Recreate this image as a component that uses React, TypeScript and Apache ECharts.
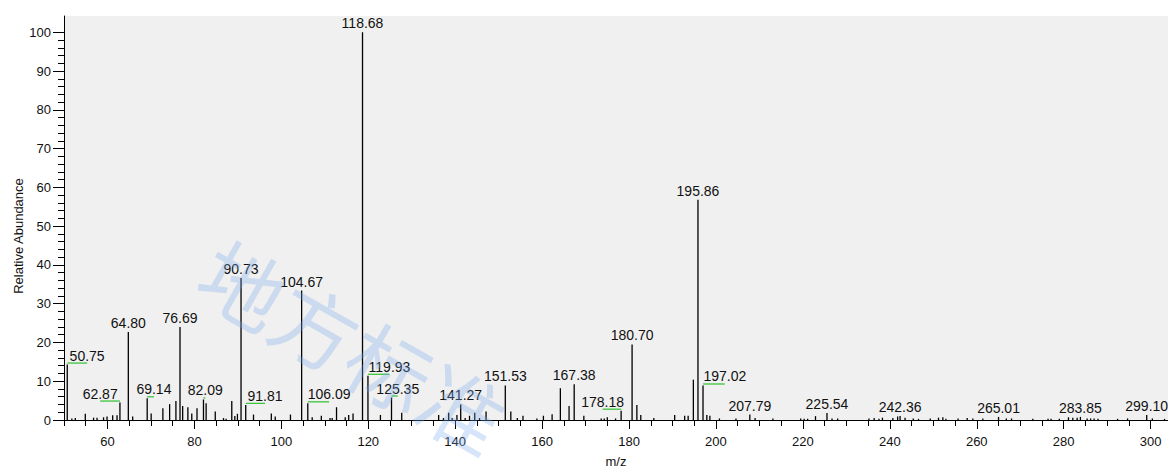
import React, { useEffect, useRef } from 'react';
import * as echarts from 'echarts';

const peakMz = [
  50.75, 51.8, 52.6, 54.9, 56.8, 57.6, 59.1, 59.9, 61.2, 62.2, 62.87, 64.8, 65.8, 69.14, 70.05,
  72.75, 74.3, 75.75, 76.69, 77.3, 78.5, 79.4, 80.6, 82.09, 82.7, 84.8, 86.7, 87.3, 88.6, 89.3,
  89.9, 90.73, 91.81, 93.6, 97.7, 98.6, 102.1, 104.67, 106.09, 107.1, 109.2, 111.2, 111.7, 112.7,
  114.7, 115.5, 116.5, 118.68, 119.93, 122.8, 125.35, 127.7, 136.2, 137.3, 138.5, 139.3, 140.4,
  141.27, 142.3, 143.3, 144.5, 145.6, 147.1, 151.53, 152.8, 154.3, 155.6, 158.8, 160.3, 162.3,
  164.2, 166.2, 167.38, 169.6, 173.6, 174.3, 175.0, 176.9, 178.18, 180.7, 181.8, 182.7, 185.7,
  190.5, 192.8, 193.6, 194.8, 195.86, 197.02, 197.9, 198.6, 200.8, 204.6, 207.79, 209.0, 213.1,
  219.5, 220.3, 221.1, 222.9, 225.54, 226.7, 228.0, 235.2, 236.4, 237.5, 238.3, 240.7, 241.8,
  242.36, 243.5, 245.4, 246.6, 249.3, 251.2, 252.2, 252.9, 255.7, 257.8, 259.1, 261.4, 265.01,
  266.8, 268.0, 272.9, 276.4, 277.1, 279.0, 281.1, 282.1, 283.1, 283.85, 285.4, 286.2, 287.0,
  287.9, 292.4, 294.7, 299.1, 300.4, 303.2,
];
const peakIntensity = [
  14.3, 0.4, 0.5, 1.6, 0.6, 0.6, 0.7, 0.9, 1.2, 1.2, 4.5, 22.7, 0.9, 5.6, 1.7,
  3.0, 4.1, 4.9, 24.0, 3.6, 3.3, 1.7, 3.0, 5.3, 4.3, 2.2, 0.5, 0.3, 4.9, 1.0,
  1.6, 36.6, 3.9, 1.4, 1.7, 0.9, 1.4, 33.4, 4.3, 0.7, 1.1, 0.5, 0.5, 3.3,
  0.7, 1.3, 1.7, 100, 11.4, 1.3, 5.8, 1.9, 1.3, 0.5, 1.9, 0.5, 1.3,
  4.0, 0.5, 1.1, 1.9, 0.5, 2.2, 8.9, 2.2, 0.5, 1.1, 0.4, 1.1, 1.5,
  8.2, 3.6, 9.2, 1.1, 0.4, 0.4, 0.7, 0.4, 2.4, 19.5, 3.9, 1.3, 0.5,
  1.3, 1.1, 1.1, 10.4, 56.8, 8.9, 1.3, 1.1, 0.4, 0.4, 1.4, 0.5, 0.4,
  0.4, 0.3, 0.3, 1.0, 1.8, 0.4, 0.4, 0.4, 0.5, 0.3, 0.6, 0.5, 0.9,
  1.0, 0.6, 0.4, 0.3, 0.4, 0.6, 0.7, 0.3, 0.4, 0.5, 0.4, 0.4, 0.8,
  0.4, 0.4, 0.3, 0.3, 0.3, 0.3, 0.7, 0.6, 0.6, 0.8, 0.4, 0.4, 0.4,
  0.3, 0.3, 0.4, 1.3, 0.4, 0.3,
];

// labelled peaks and the m/z at which each label is centred
const labelMz = [
  50.75, 62.87, 64.8, 69.14, 76.69, 82.09, 90.73, 91.81, 104.67, 106.09, 118.68, 119.93, 125.35,
  141.27, 151.53, 167.38, 178.18, 180.7, 195.86, 197.02, 207.79, 225.54, 242.36, 265.01, 283.85, 299.1,
];
const labelAnchorMz = [
  55.32, 58.32, 64.8, 70.69, 76.69, 82.5, 90.73, 96.25, 104.67, 110.99, 118.68, 124.88, 126.79,
  141.27, 151.53, 167.38, 173.93, 180.7, 195.86, 202.03, 207.79, 225.54, 242.36, 265.01, 283.85, 299.1,
];

const xMajorTicks = [60, 80, 100, 120, 140, 160, 180, 200, 220, 240, 260, 280, 300];
const yMajorTicks = [0, 10, 20, 30, 40, 50, 60, 70, 80, 90, 100];

export default function App() {
  const ref = useRef<HTMLDivElement>(null);
  useEffect(() => {
    document.body.style.margin = '0';
    const chart = echarts.init(ref.current!, null, { renderer: 'svg' });
    const font = '"Liberation Sans", Arial, sans-serif';
    const xMinor: number[] = [];
    for (let v = 50; v <= 300; v += 5) if (v % 20 !== 0) xMinor.push(v);
    const yMinor: number[] = [];
    for (let v = 0; v <= 100; v += 2) if (v % 10 !== 0) yMinor.push(v);

    const sticks = peakMz.map((m, i) => [m, peakIntensity[i]]);
    const labels = labelMz.map((m, i) => [m, peakIntensity[peakMz.indexOf(m)], labelAnchorMz[i]]);

    const baseX = {
      type: 'value',
      min: 50,
      max: 304,
      position: 'bottom',
      splitLine: { show: false },
    };
    const baseY = {
      type: 'value',
      min: 0,
      max: 104.2,
      position: 'left',
      splitLine: { show: false },
    };

    chart.setOption({
      animation: false,
      backgroundColor: '#ffffff',
      grid: {
        left: 64,
        right: 0,
        top: 16,
        bottom: 49,
        show: true,
        backgroundColor: '#f0f0f0',
        borderWidth: 0,
      },
      xAxis: [
        {
          ...baseX,
          axisLine: { show: true, lineStyle: { color: '#000', width: 1 } },
          axisTick: { show: true, customValues: xMajorTicks, length: 9, lineStyle: { color: '#000', width: 1 } },
          axisLabel: {
            show: true,
            customValues: xMajorTicks,
            margin: 15,
            fontSize: 13,
            color: '#111',
            fontFamily: font,
          },
          name: 'm/z',
          nameLocation: 'middle',
          nameGap: 35,
          nameTextStyle: { fontSize: 13, color: '#111', fontFamily: font },
        },
        {
          ...baseX,
          axisLine: { show: false },
          axisTick: { show: true, customValues: xMinor, length: 6, lineStyle: { color: '#000', width: 1 } },
          axisLabel: { show: false },
        },
      ],
      yAxis: [
        {
          ...baseY,
          axisLine: { show: true, lineStyle: { color: '#000', width: 1 } },
          axisTick: { show: true, customValues: yMajorTicks, length: 11, lineStyle: { color: '#000', width: 1 } },
          axisLabel: {
            show: true,
            customValues: yMajorTicks,
            margin: 13,
            fontSize: 13,
            color: '#111',
            fontFamily: font,
          },
        },
        {
          ...baseY,
          axisLine: { show: false },
          axisTick: { show: true, customValues: yMinor, length: 6, lineStyle: { color: '#000', width: 1 } },
          axisLabel: { show: false },
        },
      ],
      series: [
        {
          type: 'custom',
          xAxisIndex: 0,
          yAxisIndex: 0,
          data: sticks,
          encode: { x: 0, y: 1 },
          renderItem: (params: any, api: any) => {
            const p0 = api.coord([api.value(0), 0]);
            const p1 = api.coord([api.value(0), api.value(1)]);
            return {
              type: 'line',
              shape: { x1: p0[0], y1: p0[1], x2: p1[0], y2: p1[1] },
              style: { stroke: '#000', lineWidth: 1.3 },
            };
          },
        },
        {
          type: 'custom',
          xAxisIndex: 0,
          yAxisIndex: 0,
          data: labels,
          encode: { x: 0, y: 1 },
          renderItem: (params: any, api: any) => {
            const mz = api.value(0);
            const h = api.value(1);
            const anchor = api.value(2);
            const top = api.coord([mz, h]);
            const a = api.coord([anchor, h]);
            const children: any[] = [];
            if (Math.abs(anchor - mz) > 0.01) {
              children.push({
                type: 'line',
                shape: { x1: top[0], y1: top[1] - 1.5, x2: a[0], y2: top[1] - 1.5 },
                style: { stroke: '#3cc43c', lineWidth: 1.3 },
              });
            }
            children.push({
              type: 'text',
              x: a[0],
              y: top[1] - 2,
              style: {
                text: mz.toFixed(2),
                align: 'center',
                verticalAlign: 'bottom',
                fontSize: 14,
                fontFamily: font,
                fill: '#111',
              },
            });
            return { type: 'group', children };
          },
        },
      ],
      graphic: [
        {
          type: 'text',
          x: 18,
          y: 236,
          rotation: Math.PI / 2,
          style: {
            text: 'Relative Abundance',
            align: 'center',
            verticalAlign: 'middle',
            fontSize: 13,
            fontFamily: font,
            fill: '#111',
          },
        },
        {
          type: 'text',
          x: 208,
          y: 262,
          rotation: -0.515,
          z: 100,
          silent: true,
          style: {
            text: '地方标准',
            align: 'left',
            verticalAlign: 'middle',
            fontSize: 84,
            fontFamily: '"Noto Sans CJK SC"',
            fill: 'rgba(120,170,235,0.3)',
          },
        },
      ],
    });
    return () => chart.dispose();
  }, []);
  return <div ref={ref} style={{ width: 1168, height: 473 }} />;
}
